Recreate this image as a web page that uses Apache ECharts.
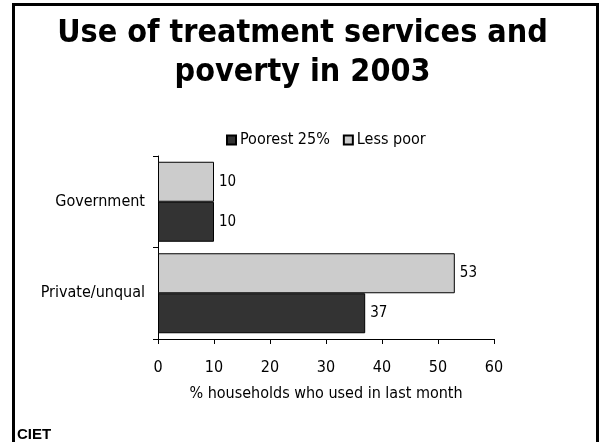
<!DOCTYPE html>
<html>
<head>
<meta charset="utf-8">
<script src="https://cdn.jsdelivr.net/npm/echarts@6/dist/echarts.min.js"></script>
<style>
  html, body { margin: 0; padding: 0; background: #fff; }
  #chart { width: 605px; height: 442px; }
</style>
</head>
<body>
<div id="chart"></div>
<script>
// Service types (bottom to top on the category axis)
const categories = ['Private/unqual', 'Government'];
// Share of households using each service in the last month (%)
const poorest = [37, 10];
const lessPoor = [53, 10];
const seriesNames = ['Poorest 25%', 'Less poor'];
const xTicks = [0, 10, 20, 30, 40, 50, 60];

const FONT = '"DejaVu Sans Condensed", "DejaVu Sans", Verdana, sans-serif';

const chart = echarts.init(document.getElementById('chart'), null, { renderer: 'canvas' });

const labelStyle = { show: true, position: 'right', distance: 5, fontFamily: FONT, fontSize: 15, color: '#000' };

chart.setOption({
  backgroundColor: '#ffffff',
  animation: false,
  title: {
    text: 'Use of treatment services and\npoverty in 2003',
    left: 'center',
    top: 9,
    textStyle: {
      fontFamily: FONT,
      fontWeight: 'bold',
      fontSize: 32,
      lineHeight: 39,
      color: '#000'
    }
  },
  legend: {
    top: 127,
    left: 221,
    itemWidth: 9,
    itemHeight: 9,
    itemGap: 13,
    icon: 'rect',
    textStyle: { fontFamily: FONT, fontSize: 16, color: '#000', padding: [0, 0, 0, -1] },
    data: seriesNames
  },
  grid: {
    left: 158,
    right: 605 - 494,
    top: 156,
    bottom: 442 - 339,
    containLabel: false
  },
  xAxis: {
    type: 'value',
    min: xTicks[0],
    max: xTicks[xTicks.length - 1],
    interval: 10,
    name: '% households who used in last month',
    nameLocation: 'middle',
    nameGap: 47,
    nameTextStyle: { fontFamily: FONT, fontSize: 16, color: '#000' },
    axisLine: { show: true, lineStyle: { color: '#000', width: 1 } },
    axisTick: { show: true, length: 5, inside: false, lineStyle: { color: '#000' } },
    axisLabel: { fontFamily: FONT, fontSize: 16, color: '#000', margin: 21 },
    splitLine: { show: false }
  },
  yAxis: {
    type: 'category',
    data: categories,
    axisLine: { show: true, lineStyle: { color: '#000', width: 1 } },
    axisTick: { show: true, length: 5, alignWithLabel: false, lineStyle: { color: '#000' } },
    axisLabel: { fontFamily: FONT, fontSize: 16, color: '#000', margin: 13 }
  },
  series: [
    {
      name: seriesNames[1],
      type: 'bar',
      data: lessPoor,
      barWidth: 40,
      barGap: '0%',
      itemStyle: { color: '#cccccc', borderColor: '#000', borderWidth: 1 },
      label: labelStyle
    },
    {
      name: seriesNames[0],
      type: 'bar',
      data: poorest,
      barWidth: 40,
      barGap: '0%',
      itemStyle: { color: '#333333', borderColor: '#000', borderWidth: 1 },
      label: labelStyle
    }
  ],
  graphic: [
    {
      type: 'rect',
      shape: { x: 13.5, y: 4.5, width: 584, height: 460 },
      style: { fill: 'none', stroke: '#000', lineWidth: 3 },
      silent: true
    },
    {
      type: 'text',
      left: 17,
      top: 427,
      style: { text: 'CIET', fontFamily: '"Liberation Sans", Arial, sans-serif', fontWeight: 'bold', fontSize: 15, fill: '#000' }
    }
  ]
});
</script>
</body>
</html>
